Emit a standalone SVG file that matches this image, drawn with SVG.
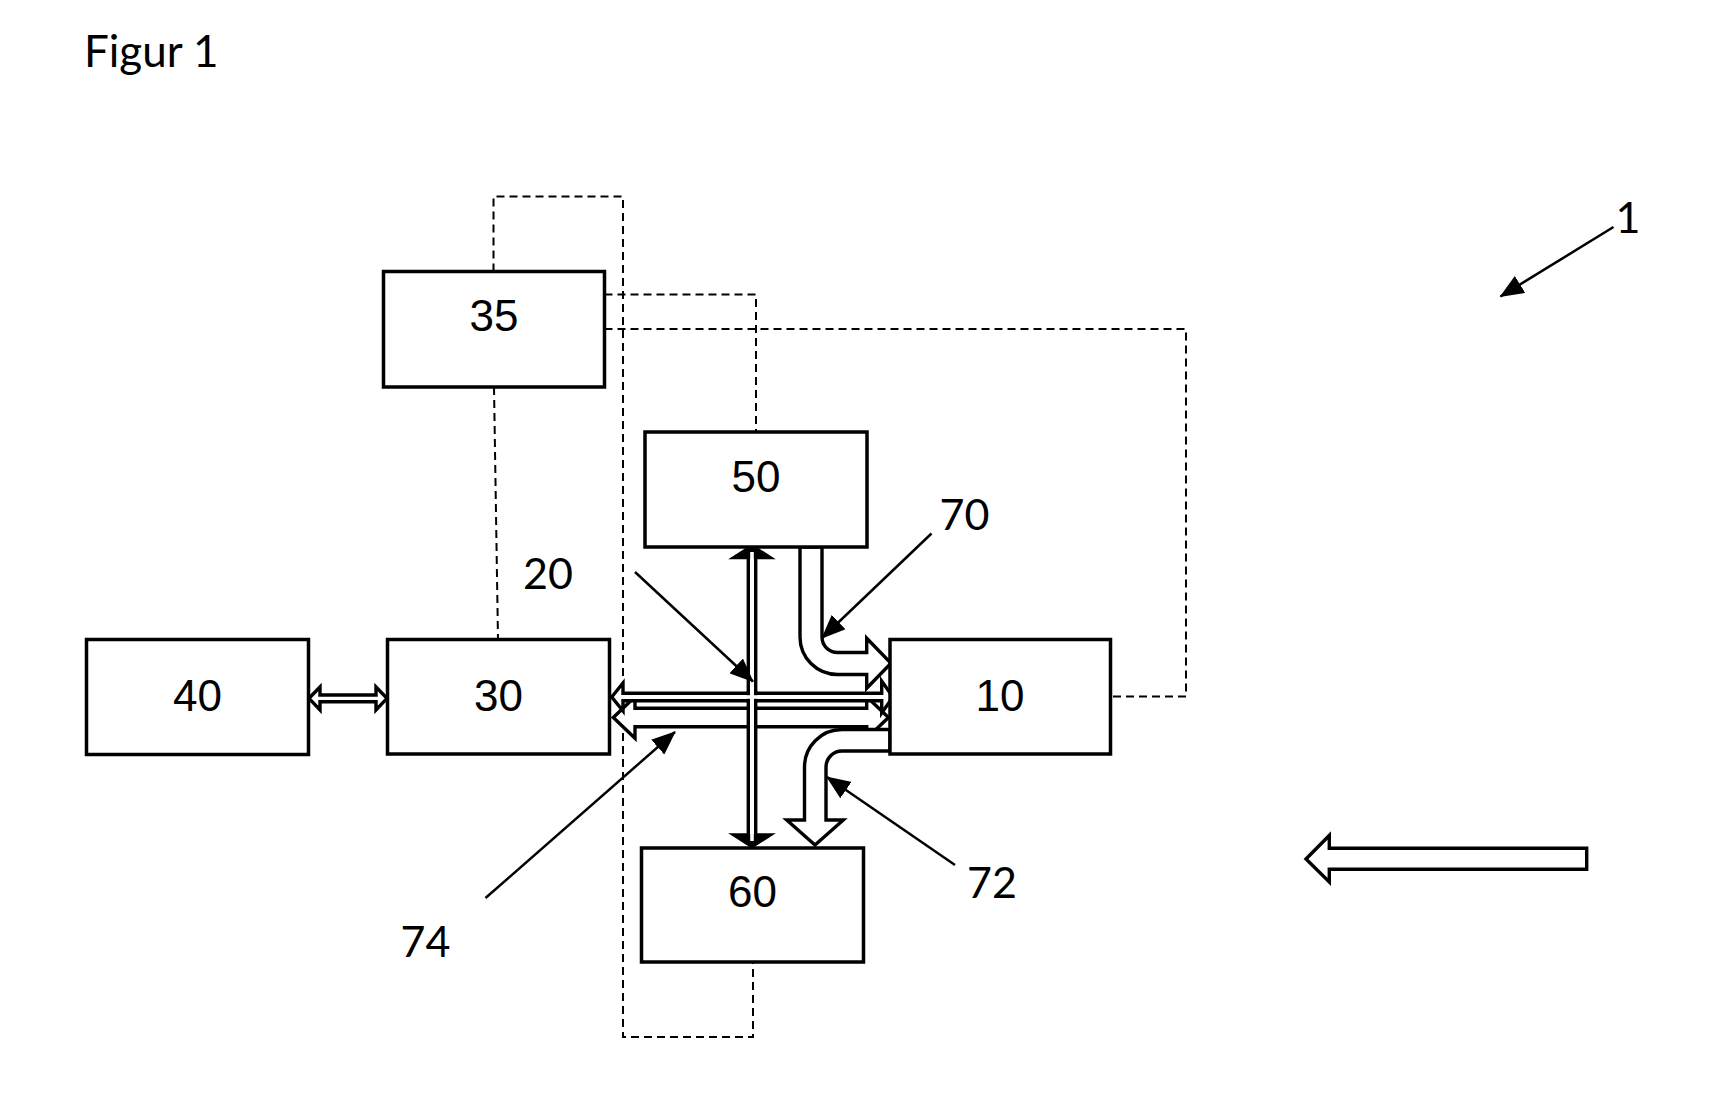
<svg xmlns="http://www.w3.org/2000/svg" width="1723" height="1099" viewBox="0 0 1723 1099">
<style>
.box{fill:#fff;stroke:#000;stroke-width:3.5}
.num{font-family:"Liberation Sans",Arial,sans-serif;font-size:44px;fill:#000;text-anchor:middle}
.lbl{font-family:Lato,"Noto Sans",sans-serif;font-size:43px;fill:#000;text-anchor:middle}
.dash{fill:none;stroke:#000;stroke-width:2;stroke-dasharray:8 5}
.blk{fill:#fff;stroke:#000;stroke-width:3.4;stroke-linejoin:miter}
.lead{fill:none;stroke:#000;stroke-width:2.5;marker-end:url(#ah)}
</style>
<defs>
<marker id="ah" markerUnits="userSpaceOnUse" markerWidth="24" markerHeight="20" refX="23" refY="10" orient="auto">
<path d="M0,0 L24,10 L0,20 Z" fill="#000"/>
</marker>
</defs>
<rect width="1723" height="1099" fill="#fff"/>
<text class="lbl" x="84" y="67" style="text-anchor:start;font-size:44px">Figur 1</text>

<g id="connectors">
<path class="dash" d="M493.5,271.5 V196.5 H623 V1037 H753 V962"/>
<path class="dash" d="M604.5,294.5 H756 V432"/>
<path class="dash" d="M604.5,329 H1186 V696.5 H1110.5"/>
<path class="dash" d="M494,387 L498,639.5"/>

<polygon class="blk" points="309,698.3 320,687 320,695 376,695 376,687 387,698.3 376,710 376,701.7 320,701.7 320,710"/>
<polygon class="blk" points="613.3,717.5 635,696.7 635,708.3 866.7,708.3 866.7,696.7 888.5,717.5 866.7,738.3 866.7,726.7 635,726.7 635,738.3"/>
<polygon class="blk" points="611.7,697 623,683 623,693.3 881.7,693.3 881.7,681 893,697 881.7,713 881.7,700.7 623,700.7 623,711"/>
<path class="blk" d="M800,547 V637 A37.5,37.5 0 0 0 837.5,674.5 H866.7 V688.3 L891,663.3 L866.7,638.3 V652.5 H837.5 A15.5,15.5 0 0 1 822,637 V547 Z"/>
<path class="blk" d="M890,729.5 H842 A37.5,37.5 0 0 0 804.5,767 V820 H786.7 L815,845 L843.3,820 H826 V767 A16,16 0 0 1 842,751 H890 Z"/>
<polygon class="blk" points="752,546 770,557.5 755.7,557.5 755.7,835 770,835 752,846.5 734,835 748.3,835 748.3,557.5 734,557.5"/>
<path d="M752,546 L770,557.5 L734,557.5 Z M752,846.5 L770,835 L734,835 Z" fill="#000" stroke="#000" stroke-width="2"/>
<path d="M752,552 V562 M752,830 V841" stroke="#fff" stroke-width="3.6"/>
<rect x="746" y="695.2" width="12" height="3.6" fill="#fff"/>
<polygon class="blk" points="1306,859 1329.3,835.5 1329.3,848.3 1586.7,848.3 1586.7,869.3 1329.3,869.3 1329.3,882"/>

<line class="lead" x1="635" y1="572" x2="753" y2="681.5"/>
<line class="lead" x1="931.5" y1="533.5" x2="822" y2="638"/>
<line class="lead" x1="485.5" y1="898" x2="675" y2="732"/>
<line class="lead" x1="955" y1="865" x2="827" y2="777"/>
<line class="lead" x1="1613.5" y1="227" x2="1500.5" y2="296.5"/>
</g>

<g id="node-35"><rect class="box" x="383.5" y="271.5" width="221" height="115.5"/><text class="num" x="494" y="330.5">35</text></g>
<g id="node-50"><rect class="box" x="645" y="432" width="222" height="115"/><text class="num" x="756" y="491.5">50</text></g>
<g id="node-40"><rect class="box" x="86.5" y="639.5" width="222" height="115"/><text class="num" x="197.5" y="710.5">40</text></g>
<g id="node-30"><rect class="box" x="387.5" y="639.5" width="222" height="114.5"/><text class="num" x="498.5" y="710.5">30</text></g>
<g id="node-10"><rect class="box" x="890" y="639.5" width="220.5" height="114.5"/><text class="num" x="1000" y="710.5">10</text></g>
<g id="node-60"><rect class="box" x="641.5" y="848" width="222" height="114"/><text class="num" x="752.5" y="907">60</text></g>

<g id="labels">
<text class="lbl" x="548" y="589">20</text>
<text class="lbl" x="964.5" y="529.5">70</text>
<text class="lbl" x="992" y="897.5">72</text>
<text class="lbl" x="425.5" y="956.5">74</text>
<text class="lbl" x="1628" y="232.5">1</text>
</g>
</svg>
